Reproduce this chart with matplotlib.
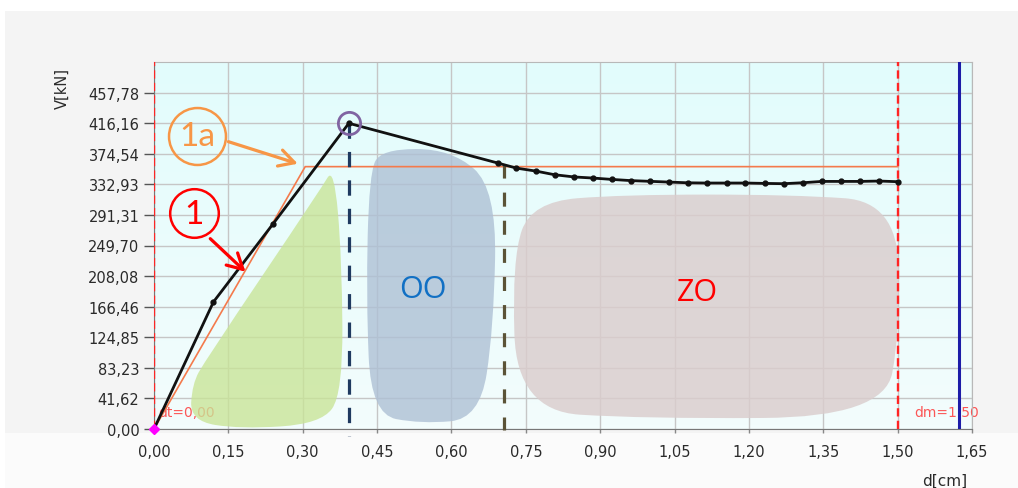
import matplotlib.pyplot as plt
import numpy as np
from matplotlib.colors import LinearSegmentedColormap
from matplotlib.patches import PathPatch, Rectangle
from matplotlib.path import Path

# measured curve V(d)
d_cm = [0.0, 0.12, 0.24, 0.393, 0.693, 0.731, 0.770, 0.808, 0.847, 0.885,
        0.924, 0.962, 1.001, 1.039, 1.078, 1.116, 1.155, 1.193, 1.232, 1.270,
        1.309, 1.347, 1.386, 1.424, 1.463, 1.501]
v_kn = [0.0, 173.0, 279.0, 416.0, 362.0, 355.0, 351.0, 346.0, 343.0, 341.5,
        339.6, 338.0, 337.0, 336.0, 335.0, 334.7, 334.7, 334.7, 334.2, 333.8,
        335.1, 336.9, 336.9, 336.9, 337.4, 336.5]

# bilinear idealisation (1a)
d_bilin = [0.0, 0.305, 1.50]
v_bilin = [0.0, 357.0, 357.0]

x_labels = ["0,00", "0,15", "0,30", "0,45", "0,60", "0,75", "0,90",
            "1,05", "1,20", "1,35", "1,50", "1,65"]
y_labels = ["0,00", "41,62", "83,23", "124,85", "166,46", "208,08",
            "249,70", "291,31", "332,93", "374,54", "416,16", "457,78"]
y_step = 41.6164

d_peak, v_peak = 0.393, 416.0
d_oo_end, v_oo_end = 0.705, 360.0
dt, dm, d_limit = 0.0, 1.50, 1.624

# zone outlines (control polygons, data coords)
green_d = [0.363, 0.379, 0.381, 0.337, 0.174, 0.073, 0.077, 0.103, 0.337]
green_v = [357, 232, 48, 7, 0, 11, 61, 93, 327]
oo_d = [0.458, 0.600, 0.691, 0.685, 0.657, 0.539, 0.438, 0.428, 0.434]
oo_v = [381, 381, 327, 136, 14, 7, 20, 177, 347]
zo_d = [0.945, 1.289, 1.498, 1.506, 1.472, 0.985, 0.732, 0.722, 0.762]
zo_v = [319, 319, 309, 136, 16, 14, 25, 232, 309]


def blob(xs, ys):
    pts = list(zip(xs, ys))
    n = len(pts)
    mids = [((pts[i][0] + pts[(i + 1) % n][0]) / 2, (pts[i][1] + pts[(i + 1) % n][1]) / 2)
            for i in range(n)]
    verts, codes = [mids[-1]], [Path.MOVETO]
    for i in range(n):
        verts += [pts[i], mids[i]]
        codes += [Path.CURVE3, Path.CURVE3]
    verts.append(mids[-1])
    codes.append(Path.CLOSEPOLY)
    return Path(verts, codes)


fig = plt.figure(figsize=(10.18, 4.89), dpi=100)
fig.patch.set_facecolor("white")

bg = fig.add_axes([0, 0, 1, 1], zorder=-10)
bg.axis("off")
bg.set_xlim(0, 1)
bg.set_ylim(0, 1)
bg.add_patch(Rectangle((5 / 1018, 0), 1, 477 / 489, color="#f4f4f4", lw=0))
bg.add_patch(Rectangle((5 / 1018, 0), 1, 55 / 489, color="#fbfbfb", lw=0))

ax = fig.add_axes([154 / 1018, 59 / 489, 818 / 1018, 367 / 489])
ax.patch.set_alpha(0)

cmap = LinearSegmentedColormap.from_list("bgc", ["#f3fdfd", "#e2fcfc"])
grad = np.linspace(0, 1, 100).reshape(-1, 1)
ax.imshow(grad, extent=[0, 1, 0, 1], transform=ax.transAxes, origin="lower",
          aspect="auto", cmap=cmap, zorder=-1)

ax.set_xlim(0, 1.65)
ax.set_ylim(0, 12 * y_step)
ax.set_xticks([i * 0.15 for i in range(len(x_labels))])
ax.set_xticklabels(x_labels)
ax.set_yticks([i * y_step for i in range(len(y_labels))])
ax.set_yticklabels(y_labels)
ax.grid(True, color="#c6c6c6", lw=1.0)
ax.set_axisbelow(True)

ax.tick_params(axis="y", length=7, width=1, color="#555555", pad=3.5,
               labelsize=10.5, labelcolor="#2a2a2a")
ax.tick_params(axis="x", length=3, width=1, color="#888888", pad=8,
               labelsize=10.5, labelcolor="#2a2a2a")
for side in ["top", "right"]:
    ax.spines[side].set_color("#b8b8b8")
ax.spines["bottom"].set_color("#777777")
ax.spines["left"].set_color("#777777")

ax.set_ylabel("V[kN]", fontsize=10.5, color="#2a2a2a")
ax.yaxis.set_label_coords(-0.103, 0.93)
ax.set_xlabel("d[cm]", fontsize=11, color="#2a2a2a")
ax.xaxis.set_label_coords(0.967, -0.118)

# limit markers
ax.text(0.008, 23, "dt=0,00", color="#ff2020", alpha=0.75, fontsize=10,
        va="center", ha="left", zorder=2)
ax.text(1.533, 23, "dm=1,50", color="#ff2020", alpha=0.75, fontsize=10,
        va="center", ha="left", zorder=2, clip_on=False)
ax.axvline(dt, color="#ff2424", lw=1.7, ls=(0, (3.5, 1.8)), zorder=5)
ax.axvline(dm, color="#ff2424", lw=1.7, ls=(0, (3.5, 1.8)), zorder=5)
ax.axvline(d_limit, color="#1c1ca8", lw=2.2, zorder=5)

# zones
ax.add_patch(PathPatch(blob(green_d, green_v), facecolor="#c8e496", alpha=0.78,
                       lw=0, zorder=3))
ax.add_patch(PathPatch(blob(oo_d, oo_v), facecolor="#aec0d5", alpha=0.8,
                       lw=0, zorder=3))
ax.add_patch(PathPatch(blob(zo_d, zo_v), facecolor="#dacdcd", alpha=0.82,
                       lw=0, zorder=3))
ax.text(0.543, 191, "OO", color="#1170c4", fontsize=22, family="Open Sans",
        ha="center", va="center", zorder=4)
ax.text(1.097, 187, "ZO", color="#ff0000", fontsize=22, family="Open Sans",
        ha="center", va="center", zorder=4)

# curves
ax.plot(d_bilin, v_bilin, color="#f47a4c", lw=1.2, zorder=6)
ax.plot(d_cm, v_kn, color="#111111", lw=2.0, marker="o", ms=3.5, zorder=7)
ax.plot([0], [0], marker="D", color="#ff00ff", ms=5, clip_on=False, zorder=8)

ax.plot([d_peak, d_peak], [v_peak, -9], color="#1f3a60", lw=2.3,
        dashes=(4.8, 4.1), clip_on=False, zorder=6)
ax.plot([d_oo_end, d_oo_end], [v_oo_end, -2], color="#5b5337", lw=2.3,
        dashes=(4.4, 4.4), clip_on=False, zorder=6)
ax.plot([d_peak], [v_peak + 1], marker="o", ms=16, mfc="none", mec="#8064a2",
        mew=2.0, zorder=9)

# callouts
ax.plot([0.087], [399], marker="o", ms=41, mfc="none", mec="#f79646", mew=1.8,
        clip_on=False, zorder=9)
ax.text(0.087, 399, "1a", color="#f79646", fontsize=24, family="Lato",
        ha="center", va="center", zorder=9)
ax.annotate("", xy=(0.290, 361), xytext=(0.150, 391),
            arrowprops=dict(arrowstyle="->,head_length=0.55,head_width=0.3",
                            color="#f79646", lw=2.3, mutation_scale=20,
                            shrinkA=0, shrinkB=0), zorder=9)
ax.plot([0.081], [294], marker="o", ms=35, mfc="none", mec="#ff0000", mew=1.8,
        zorder=9)
ax.text(0.081, 292, "1", color="#ff0000", fontsize=24, family="Lato",
        ha="center", va="center", zorder=9)
ax.annotate("", xy=(0.1845, 214), xytext=(0.1135, 259),
            arrowprops=dict(arrowstyle="->,head_length=0.55,head_width=0.3",
                            color="#ff0000", lw=2.3, mutation_scale=20,
                            shrinkA=0, shrinkB=0), zorder=9)

fig.savefig("out.png", dpi=100)
